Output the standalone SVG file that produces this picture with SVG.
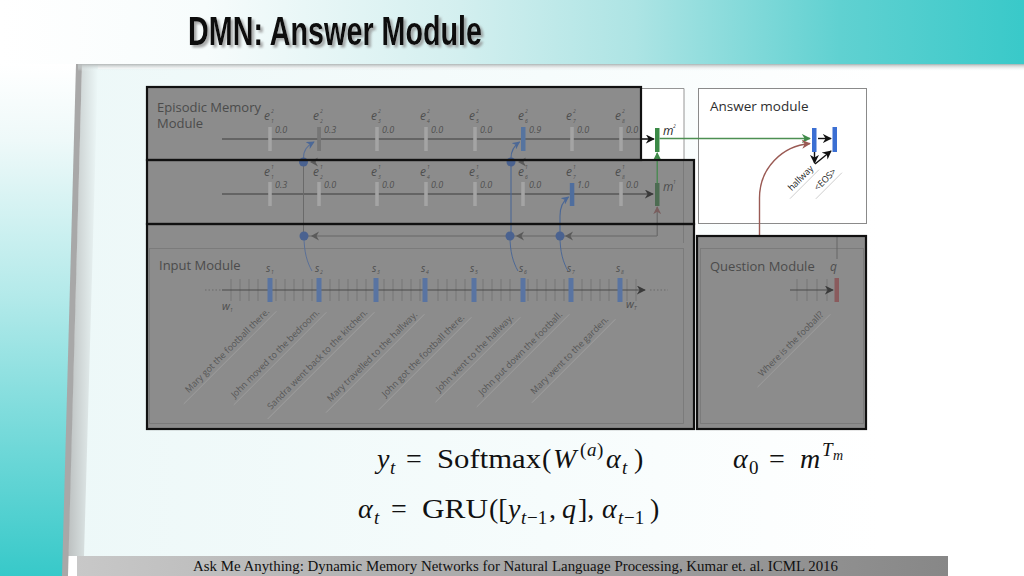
<svg xmlns="http://www.w3.org/2000/svg" width="1024" height="576" viewBox="0 0 1024 576">
<defs>
<linearGradient id="hdr" x1="0" y1="0" x2="1" y2="0">
<stop offset="0" stop-color="#ffffff"/><stop offset="0.2" stop-color="#f7fcfc"/><stop offset="0.45" stop-color="#d3efef"/><stop offset="0.62" stop-color="#ade4e4"/><stop offset="0.82" stop-color="#60d1d1"/><stop offset="1" stop-color="#39c9c9"/>
</linearGradient>
<linearGradient id="lft" x1="0" y1="0" x2="0" y2="1">
<stop offset="0" stop-color="#ffffff"/><stop offset="0.15" stop-color="#eef9f9"/><stop offset="0.45" stop-color="#b4eaea"/><stop offset="0.75" stop-color="#6fd8d8"/><stop offset="1" stop-color="#37c9c9"/>
</linearGradient>
<linearGradient id="pnl" x1="0" y1="0" x2="1" y2="0">
<stop offset="0" stop-color="#edf8f8"/><stop offset="0.5" stop-color="#f6fcfc"/><stop offset="0.85" stop-color="#ffffff"/>
</linearGradient>
<linearGradient id="shd" x1="0" y1="0" x2="0" y2="1">
<stop offset="0" stop-color="#b3b7b7"/><stop offset="1" stop-color="#eef8f8" stop-opacity="0"/>
</linearGradient>
<linearGradient id="edg" x1="0" y1="0" x2="1" y2="0">
<stop offset="0" stop-color="#bcc0c0"/><stop offset="1" stop-color="#edf8f8"/>
</linearGradient>
<linearGradient id="ftr" x1="0" y1="0" x2="1" y2="0">
<stop offset="0" stop-color="#c8c8c8"/><stop offset="1" stop-color="#878787"/>
</linearGradient>
<filter id="ts" x="-5%" y="-20%" width="115%" height="150%">
<feDropShadow dx="2.5" dy="2.5" stdDeviation="1" flood-color="#8a8a8a" flood-opacity="0.75"/>
</filter>
<marker id="ak" viewBox="0 0 10 10" refX="9" refY="5" markerWidth="9" markerHeight="9" orient="auto" markerUnits="userSpaceOnUse"><path d="M0 0L10 5L0 10L3 5z" fill="#111"/></marker>
<marker id="ad" viewBox="0 0 10 10" refX="9" refY="5" markerWidth="9" markerHeight="9" orient="auto" markerUnits="userSpaceOnUse"><path d="M0 0L10 5L0 10L3 5z" fill="#3a3a3a"/></marker>
<marker id="ag" viewBox="0 0 10 10" refX="9" refY="5" markerWidth="9" markerHeight="9" orient="auto" markerUnits="userSpaceOnUse"><path d="M0 0L10 5L0 10L3 5z" fill="#3f8a49"/></marker>
<marker id="ab" viewBox="0 0 10 10" refX="9" refY="5" markerWidth="9" markerHeight="9" orient="auto" markerUnits="userSpaceOnUse"><path d="M0 0L10 5L0 10L3 5z" fill="#9a5a54"/></marker>
<marker id="abd" viewBox="0 0 10 10" refX="9" refY="5" markerWidth="8" markerHeight="8" orient="auto" markerUnits="userSpaceOnUse"><path d="M0 0L10 5L0 10L3 5z" fill="#7a5e5e"/></marker>
<marker id="abl" viewBox="0 0 10 10" refX="9" refY="5" markerWidth="8" markerHeight="8" orient="auto" markerUnits="userSpaceOnUse"><path d="M0 0L10 5L0 10L3 5z" fill="#4c6896"/></marker>
</defs>
<style>
.sans{font-family:"Open Sans","Noto Sans","Liberation Sans",sans-serif;}
.mod{font-family:"Open Sans","Noto Sans",sans-serif;font-size:13px;fill:#4b4b4b;}
.e{font-family:"Open Sans","Noto Sans",sans-serif;font-style:italic;font-size:12px;fill:#4e4e4e;}
.sc{font-family:"Open Sans","Noto Sans",sans-serif;font-style:italic;font-size:5px;fill:#4e4e4e;}
.v{font-family:"Open Sans","Noto Sans",sans-serif;font-style:italic;font-size:9px;fill:#505050;}
.tk{fill:#a4a4a4;}
.sent{font-family:"Open Sans","Noto Sans",sans-serif;font-size:9px;fill:#575757;text-anchor:end;}
.ul{stroke:#a2a2a2;stroke-width:0.8;}
.box{fill:none;stroke:#111;stroke-width:2.2;}
.eq{font-family:"Liberation Serif","Times New Roman",serif;font-size:28px;fill:#111;}
.eqi{font-family:"Liberation Serif","Times New Roman",serif;font-size:28px;font-style:italic;fill:#111;}
.eqs{font-family:"Liberation Serif","Times New Roman",serif;font-size:19px;fill:#111;}
.eqsi{font-family:"Liberation Serif","Times New Roman",serif;font-size:19px;font-style:italic;fill:#111;}
.ttl{font-family:"Liberation Sans","Arial",sans-serif;font-weight:bold;font-size:41px;}
</style>

<!-- background -->
<rect x="0" y="0" width="1024" height="576" fill="#ffffff"/>
<rect x="0" y="0" width="1024" height="65" fill="url(#hdr)"/>
<polygon points="0,64 78,64 64,576 0,576" fill="url(#lft)"/>
<polygon points="82,69 1024,69 1024,556 68,556" fill="url(#pnl)"/>
<polygon points="82,64 98,64 84,556 68,556" fill="url(#edg)"/>
<polygon points="76,64 82,64 68,576 62,576" fill="#a8a8a8"/>
<rect x="78" y="64" width="946" height="7" fill="url(#shd)"/>
<rect x="77" y="556" width="871" height="20" fill="url(#ftr)"/>

<!-- title -->
<g id="title">
<text x="188" y="45" class="ttl" textLength="294" lengthAdjust="spacingAndGlyphs" fill="#0a0a0a" filter="url(#ts)">DMN: Answer Module</text>
</g>

<!-- white figure areas -->
<g id="white-frames">
<rect x="641" y="88" width="43" height="72" fill="#ffffff"/>
<path d="M641 88.5H684V160" fill="none" stroke="#8a8a8a" stroke-width="0.9"/>
<rect x="694" y="160" width="4" height="76" fill="#ffffff"/>
<rect x="641" y="224" width="56" height="12" fill="#ffffff"/>
</g>

<!-- overlay fills -->
<g id="overlay-fills" fill="#8c8c8c">
<rect x="147" y="87" width="494" height="73"/>
<rect x="147" y="160" width="547" height="64"/>
<rect x="147" y="224" width="547" height="205"/>
<rect x="697" y="236" width="169" height="193"/>
</g>

<!-- answer module box -->
<g id="answer-module">
<rect x="698.5" y="88.5" width="168" height="135" fill="#ffffff" stroke="#8a8a8a" stroke-width="1"/>
<text x="710" y="111" class="sans" font-size="13.5" fill="#2e2e2e">Answer module</text>
<rect x="812" y="128" width="4.5" height="24" fill="#3b6fd3"/>
<rect x="832.5" y="127" width="4.5" height="25" fill="#3b6fd3"/>
<line x1="818" y1="138.5" x2="831" y2="138.5" stroke="#111" stroke-width="1.4" marker-end="url(#ak)"/>
<line x1="814.5" y1="152" x2="814.5" y2="163" stroke="#111" stroke-width="1.4" marker-end="url(#ak)"/>
<line x1="815" y1="164" x2="831" y2="151" stroke="#111" stroke-width="1.4" marker-end="url(#ak)"/>
<g transform="translate(814,169) rotate(-45)">
<text x="0" y="0" class="sans" font-size="9" fill="#222" text-anchor="end">hallway</text>
<line x1="-38" y1="4" x2="3" y2="4" stroke="#c4c4c4" stroke-width="0.8"/>
</g>
<g transform="translate(837,172) rotate(-45)">
<text x="0" y="0" class="sans" font-size="9" fill="#222" text-anchor="end">&lt;EOS&gt;</text>
<line x1="-34" y1="4" x2="3" y2="4" stroke="#c4c4c4" stroke-width="0.8"/>
</g>
</g>

<!-- episodic memory module -->
<g id="episodic-memory">
<text x="157" y="112" class="mod">Episodic Memory</text>
<text x="157" y="128" class="mod">Module</text>
<line x1="222" y1="139" x2="653" y2="139" stroke="#3c3c3c" stroke-width="1.1"/>
<line x1="641" y1="139" x2="654" y2="139" stroke="#111" stroke-width="1.2" marker-end="url(#ak)"/>
<g>
<rect x="268.2" y="127" width="3.6" height="24" class="tk"/>
<rect x="317.2" y="127" width="3.8" height="24" fill="#767676"/>
<rect x="375.2" y="127" width="3.6" height="24" class="tk"/>
<rect x="424.2" y="127" width="3.6" height="24" class="tk"/>
<rect x="473.2" y="127" width="3.6" height="24" class="tk"/>
<rect x="521" y="127" width="4.5" height="24" fill="#56749f"/>
<rect x="570.2" y="127" width="3.6" height="24" class="tk"/>
<rect x="619.2" y="127" width="3.6" height="24" class="tk"/>
</g>
<g>
<text x="275" y="133" class="v">0.0</text><text x="324" y="133" class="v">0.3</text><text x="382" y="133" class="v">0.0</text><text x="431" y="133" class="v">0.0</text><text x="480" y="133" class="v">0.0</text><text x="529" y="133" class="v">0.9</text><text x="577" y="133" class="v">0.0</text><text x="626" y="133" class="v">0.0</text>
</g>
<g>
<text x="264" y="120" class="e">e</text><text x="271" y="113" class="sc">2</text><text x="271" y="123" class="sc">1</text>
<text x="313" y="120" class="e">e</text><text x="320" y="113" class="sc">2</text><text x="320" y="123" class="sc">2</text>
<text x="371" y="120" class="e">e</text><text x="378" y="113" class="sc">2</text><text x="378" y="123" class="sc">3</text>
<text x="420" y="120" class="e">e</text><text x="427" y="113" class="sc">2</text><text x="427" y="123" class="sc">4</text>
<text x="469" y="120" class="e">e</text><text x="476" y="113" class="sc">2</text><text x="476" y="123" class="sc">5</text>
<text x="518" y="120" class="e">e</text><text x="525" y="113" class="sc">2</text><text x="525" y="123" class="sc">6</text>
<text x="566" y="120" class="e">e</text><text x="573" y="113" class="sc">2</text><text x="573" y="123" class="sc">7</text>
<text x="615" y="120" class="e">e</text><text x="622" y="113" class="sc">2</text><text x="622" y="123" class="sc">8</text>
</g>
<line x1="222" y1="194" x2="653" y2="194" stroke="#3c3c3c" stroke-width="1.1" marker-end="url(#ad)"/>
<g>
<rect x="268.2" y="182" width="3.6" height="24" class="tk"/>
<rect x="317.2" y="182" width="3.6" height="24" class="tk"/>
<rect x="375.2" y="182" width="3.6" height="24" class="tk"/>
<rect x="424.2" y="182" width="3.6" height="24" class="tk"/>
<rect x="473.2" y="182" width="3.6" height="24" class="tk"/>
<rect x="521.2" y="182" width="3.6" height="24" class="tk"/>
<rect x="569.8" y="183" width="4.5" height="23" fill="#4f6e9e"/>
<rect x="619.2" y="182" width="3.6" height="24" class="tk"/>
</g>
<g>
<text x="275" y="188" class="v">0.3</text><text x="324" y="188" class="v">0.0</text><text x="382" y="188" class="v">0.0</text><text x="431" y="188" class="v">0.0</text><text x="480" y="188" class="v">0.0</text><text x="529" y="188" class="v">0.0</text><text x="577" y="188" class="v">1.0</text><text x="626" y="188" class="v">0.0</text>
</g>
<g>
<text x="264" y="176" class="e">e</text><text x="271" y="169" class="sc">1</text><text x="271" y="179" class="sc">1</text>
<text x="313" y="176" class="e">e</text><text x="320" y="169" class="sc">1</text><text x="320" y="179" class="sc">2</text>
<text x="371" y="176" class="e">e</text><text x="378" y="169" class="sc">1</text><text x="378" y="179" class="sc">3</text>
<text x="420" y="176" class="e">e</text><text x="427" y="169" class="sc">1</text><text x="427" y="179" class="sc">4</text>
<text x="469" y="176" class="e">e</text><text x="476" y="169" class="sc">1</text><text x="476" y="179" class="sc">5</text>
<text x="518" y="176" class="e">e</text><text x="525" y="169" class="sc">1</text><text x="525" y="179" class="sc">6</text>
<text x="566" y="176" class="e">e</text><text x="573" y="169" class="sc">1</text><text x="573" y="179" class="sc">7</text>
<text x="615" y="176" class="e">e</text><text x="622" y="169" class="sc">1</text><text x="622" y="179" class="sc">8</text>
</g>
<line x1="683.5" y1="160" x2="683.5" y2="243" stroke="#787878" stroke-width="0.9"/>
</g>

<!-- memory vectors -->
<g id="memory-m2">
<rect x="655" y="128" width="4.5" height="24" fill="#3a8a46"/>
<text x="663" y="135" class="e" style="fill:#2a2a2a">m</text><text x="673" y="128" class="sc" style="fill:#2a2a2a">2</text>
</g>
<g id="memory-m1">
<rect x="655" y="183" width="4.5" height="23" fill="#4d6c52"/>
<text x="663" y="191" class="e">m</text><text x="673" y="184" class="sc">1</text>
</g>

<!-- input module -->
<g id="input-module">
<rect x="149.5" y="248.5" width="534" height="175" fill="none" stroke="#7a7a7a" stroke-width="0.9"/>
<text x="159" y="270" class="mod">Input Module</text>
<line x1="205" y1="290" x2="222" y2="290" stroke="#6a6a6a" stroke-width="1" stroke-dasharray="1.5 2"/>
<line x1="650" y1="290" x2="668" y2="290" stroke="#6a6a6a" stroke-width="1" stroke-dasharray="1.5 2"/>
<path d="M231 279V301M240 279V301M249 279V301M258 279V301M276 279V301M285 279V301M294 279V301M303 279V301M312 279V301M330 279V301M339 279V301M348 279V301M357 279V301M366 279V301M384 279V301M393 279V301M402 279V301M411 279V301M420 279V301M438 279V301M447 279V301M456 279V301M465 279V301M483 279V301M492 279V301M501 279V301M510 279V301M528 279V301M537 279V301M546 279V301M555 279V301M564 279V301M582 279V301M591 279V301M600 279V301M609 279V301M627 279V301M636 279V301" stroke="#727272" stroke-width="0.8"/>
<line x1="222" y1="290" x2="645" y2="290" stroke="#4a4a4a" stroke-width="1.2" marker-end="url(#ad)"/>
<g fill="#5974a2">
<rect x="267.5" y="278" width="5" height="24"/><rect x="316.5" y="278" width="5" height="24"/><rect x="373.5" y="278" width="5" height="24"/><rect x="422.5" y="278" width="5" height="24"/><rect x="471.5" y="278" width="5" height="24"/><rect x="520.5" y="278" width="5" height="24"/><rect x="568.5" y="278" width="5" height="24"/><rect x="617.5" y="278" width="5" height="24"/>
</g>
<g>
<text x="266" y="272" class="e" style="font-size:10px">s</text><text x="271" y="274" class="sc">1</text>
<text x="315" y="272" class="e" style="font-size:10px">s</text><text x="320" y="274" class="sc">2</text>
<text x="372" y="272" class="e" style="font-size:10px">s</text><text x="377" y="274" class="sc">3</text>
<text x="421" y="272" class="e" style="font-size:10px">s</text><text x="426" y="274" class="sc">4</text>
<text x="470" y="272" class="e" style="font-size:10px">s</text><text x="475" y="274" class="sc">5</text>
<text x="519" y="272" class="e" style="font-size:10px">s</text><text x="524" y="274" class="sc">6</text>
<text x="567" y="272" class="e" style="font-size:10px">s</text><text x="572" y="274" class="sc">7</text>
<text x="616" y="272" class="e" style="font-size:10px">s</text><text x="621" y="274" class="sc">8</text>
</g>
<text x="222" y="310" class="e" style="font-size:11px">w</text><text x="230" y="312" class="sc">1</text>
<text x="626" y="308" class="e" style="font-size:11px">w</text><text x="634" y="310" class="sc">T</text>
<g transform="translate(270,312) rotate(-45)"><text class="sent">Mary got the football there.</text><line class="ul" x1="-126" y1="4" x2="5" y2="4"/></g>
<g transform="translate(320,313) rotate(-45)"><text class="sent">John moved to the bedroom.</text><line class="ul" x1="-126" y1="4" x2="5" y2="4"/></g>
<g transform="translate(368,313) rotate(-45)"><text class="sent">Sandra went back to the kitchen.</text><line class="ul" x1="-146" y1="4" x2="5" y2="4"/></g>
<g transform="translate(418,315) rotate(-45)"><text class="sent">Mary travelled to the hallway.</text><line class="ul" x1="-134" y1="4" x2="5" y2="4"/></g>
<g transform="translate(465,318) rotate(-45)"><text class="sent">John got the football there.</text><line class="ul" x1="-126" y1="4" x2="5" y2="4"/></g>
<g transform="translate(514,318) rotate(-45)"><text class="sent">John went to the hallway.</text><line class="ul" x1="-115" y1="4" x2="5" y2="4"/></g>
<g transform="translate(563,315) rotate(-45)"><text class="sent">John put down the football.</text><line class="ul" x1="-126" y1="4" x2="5" y2="4"/></g>
<g transform="translate(609,320) rotate(-45)"><text class="sent">Mary went to the garden.</text><line class="ul" x1="-113" y1="4" x2="5" y2="4"/></g>
</g>

<!-- question module -->
<g id="question-module">
<rect x="700.5" y="248.5" width="163" height="175" fill="none" stroke="#7a7a7a" stroke-width="0.9"/>
<text x="710" y="271" class="mod">Question Module</text>
<text x="830" y="271" class="e" style="font-size:12px">q</text>
<line x1="837" y1="236" x2="837" y2="259" stroke="#666" stroke-width="1"/>
<path d="M797 279V301M807 279V301M817 279V301M827 279V301" stroke="#727272" stroke-width="0.8"/>
<line x1="790" y1="290" x2="833" y2="290" stroke="#4a4a4a" stroke-width="1.1" marker-end="url(#ad)"/>
<rect x="834.5" y="278" width="4.5" height="24" fill="#8a5b5d"/>
<g transform="translate(824,315) rotate(-45)"><text class="sent">Where is the fooball?</text><line class="ul" x1="-98" y1="4" x2="5" y2="4"/></g>
</g>

<!-- connectors -->
<g id="connectors" fill="none">
<line x1="659.5" y1="138.5" x2="810" y2="138.5" stroke="#4c8f52" stroke-width="1.3" marker-end="url(#ag)"/>
<line x1="657.2" y1="183" x2="657.2" y2="153" stroke="#3f8a49" stroke-width="1.2" marker-end="url(#ag)"/>
<line x1="657.2" y1="236" x2="657.2" y2="207" stroke="#666" stroke-width="1.1" marker-end="url(#abd)"/>
<path d="M759.5 236V198C759.5 168 782 146 810 143.5" stroke="#9a5a54" stroke-width="1.4" marker-end="url(#ab)"/>
<line x1="657" y1="236" x2="308" y2="236" stroke="#666" stroke-width="1.1"/>
<path d="M311 236l8-4.5l-2.5 4.5l2.5 4.5z M516 236l8-4.5l-2.5 4.5l2.5 4.5z M565 236l8-4.5l-2.5 4.5l2.5 4.5z M310 162l8-4.5l-2.5 4.5l2.5 4.5z M518 162l8-4.5l-2.5 4.5l2.5 4.5z" fill="#5a5a5a" stroke="none"/>
<line x1="303.5" y1="232" x2="303.5" y2="166" stroke="#6a6a6a" stroke-width="1"/>
<line x1="511" y1="232" x2="511" y2="166" stroke="#4c6896" stroke-width="1.1"/>
<path d="M303.5 158C303.5 150 307 146 314 142" stroke="#5a7098" stroke-width="1.1" marker-end="url(#abl)"/>
<path d="M511 158C511 150 514 146 519.5 142" stroke="#4c6896" stroke-width="1.1" marker-end="url(#abl)"/>
<path d="M560 232V216C560 207 563 201 568.5 197" stroke="#4c6896" stroke-width="1.1" marker-end="url(#abl)"/>
<path d="M304 236C304 252 307 262 312 271" stroke="#5a7098" stroke-width="1"/>
<path d="M510 236C510 252 513 262 518 271" stroke="#4c6896" stroke-width="1"/>
<path d="M560 236C560 252 563 262 568 271" stroke="#4c6896" stroke-width="1"/>
<g fill="#4a6290" stroke="none">
<circle cx="304" cy="236" r="4.5"/><circle cx="510" cy="236" r="4.5"/><circle cx="560" cy="236" r="4.5"/><circle cx="303.5" cy="162" r="4.5"/><circle cx="511" cy="162" r="4.5"/>
</g>
</g>

<!-- overlay borders -->
<g id="overlay-borders">
<rect x="147" y="87" width="494" height="73" class="box"/>
<rect x="147" y="160" width="547" height="64" class="box"/>
<rect x="147" y="224" width="547" height="205" class="box"/>
<rect x="697" y="236" width="169" height="193" class="box"/>
</g>

<!-- equations -->
<g id="equations">
<text x="377" y="468" class="eqi">y</text><text x="390" y="474" class="eqsi">t</text>
<text x="406" y="468" class="eq">=</text>
<text x="437" y="468" class="eq" textLength="104" lengthAdjust="spacingAndGlyphs">Softmax</text>
<text x="542" y="468" class="eq">(</text>
<text x="553" y="468" class="eqi">W</text>
<text x="580" y="456" class="eqs">(</text><text x="587" y="456" class="eqsi">a</text><text x="597" y="456" class="eqs">)</text>
<text x="606" y="468" class="eqi">α</text><text x="622" y="474" class="eqsi">t</text>
<text x="634" y="468" class="eq">)</text>

<text x="733" y="468" class="eqi">α</text><text x="749" y="474" class="eqs">0</text>
<text x="769" y="468" class="eq">=</text>
<text x="800" y="468" class="eqi">m</text>
<text x="822" y="456" class="eqsi">T</text><text x="833" y="460" class="eqsi" style="font-size:14px">m</text>

<text x="358" y="518" class="eqi">α</text><text x="374" y="524" class="eqsi">t</text>
<text x="391" y="518" class="eq">=</text>
<text x="422" y="518" class="eq" textLength="66" lengthAdjust="spacingAndGlyphs">GRU</text>
<text x="489" y="518" class="eq">([</text>
<text x="508" y="518" class="eqi">y</text><text x="521" y="524" class="eqsi">t</text><text x="527" y="524" class="eqs">−1</text>
<text x="549" y="518" class="eq">,</text>
<text x="562" y="518" class="eqi">q</text>
<text x="578" y="518" class="eq">],</text>
<text x="602" y="518" class="eqi">α</text><text x="618" y="524" class="eqsi">t</text><text x="624" y="524" class="eqs">−1</text>
<text x="650" y="518" class="eq">)</text>
</g>

<!-- footer -->
<g id="footer">
<text x="193" y="571" font-family="'Liberation Serif','Times New Roman',serif" font-size="14.5" fill="#111" textLength="645" lengthAdjust="spacingAndGlyphs">Ask Me Anything: Dynamic Memory Networks for Natural Language Processing, Kumar et. al. ICML 2016</text>
</g>
</svg>
